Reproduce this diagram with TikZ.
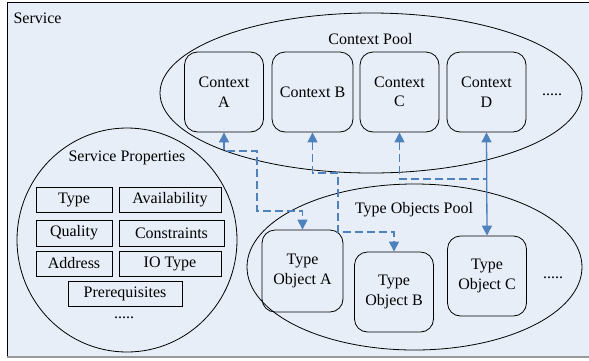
\documentclass[tikz,border=0pt]{standalone}
\usepackage{fontspec}
\setmainfont{Liberation Serif}
\newfontfamily\diagfont{Liberation Serif}
\usetikzlibrary{shapes.geometric,arrows.meta}
\definecolor{svcback}{RGB}{232,238,248}
\definecolor{linkblue}{RGB}{79,129,189}
\tikzset{
  every node/.style={font=\diagfont\fontsize{16}{19.5}\selectfont},
  pool/.style={draw, ellipse, inner sep=0pt, line width=0.8pt},
  objbox/.style={draw, rounded corners=13pt, minimum width=79pt, minimum height=80pt,
    align=center, line width=0.8pt},
  propbox/.style={draw, minimum height=25pt, inner sep=0pt, line width=0.9pt},
  dlink/.style={linkblue, line width=1.1pt, dash pattern=on 8pt off 4pt},
  slink/.style={linkblue, line width=1.3pt},
  >={Triangle[length=10pt,width=10pt]}
}
\begin{document}
\begin{tikzpicture}[x=1pt,y=-1pt]
  \useasboundingbox (0,0) rectangle (589,360);
  \fill[white] (0,0) rectangle (589,360);
  % service frame
  \filldraw[fill=svcback, draw=black, line width=0.8pt] (7,2.5) rectangle (600,357);
  \draw[gray!80, line width=1.5pt] (7,357) -- (589,357);
  \node[anchor=west] (svc) at (10,18) {Service};

  % pools
  \node[pool, minimum width=422pt, minimum height=160pt] (ctxpool) at (371,93) {};
  \node[pool, minimum width=335pt, minimum height=166pt] (topool) at (414.5,267) {};
  \node[pool, minimum width=220pt, minimum height=224pt] (proppool) at (127,240) {};
  \node (ctxlabel) at (370.5,39) {Context Pool};
  \node (tolabel) at (414,210) {Type Objects Pool};
  \node (proplabel) at (127,158) {Service Properties};

  % contexts
  \node[objbox] (ctxA) at (224,92) {Context\\A};
  \node[objbox, minimum width=81pt] (ctxB) at (312.5,92) {Context B};
  \node[objbox] (ctxC) at (399.5,92) {Context\\C};
  \node[objbox] (ctxD) at (486.5,92) {Context\\D};
  \node (ctxmore) at (552,95) {.....};

  % type objects
  \node[objbox, minimum width=81pt, minimum height=82pt] (toA) at (302.5,271) {Type\\Object A};
  \node[objbox] (toB) at (394,292) {Type\\Object B};
  \node[objbox] (toC) at (487,276) {Type\\Object C};
  \node (tomore) at (553,278) {.....};

  % service properties
  \node[propbox, minimum width=76pt] (ptype) at (74,199.5) {Type};
  \node[propbox, minimum width=102pt] (pavail) at (170,199.5) {Availability};
  \node[propbox, minimum width=76pt, minimum height=26pt] (pqual) at (74,233) {Quality};
  \node[propbox, minimum width=105pt, minimum height=26pt] (pcons) at (171.5,233) {Constraints};
  \node[propbox, minimum width=76pt] (paddr) at (74,263.5) {Address};
  \node[propbox, minimum width=102pt] (pio) at (170,263.5) {IO Type};
  \node[propbox, minimum width=114pt] (pprereq) at (125,293.5) {Prerequisites};
  \node (propmore) at (124,318) {.....};

  % links
  \coordinate (a1) at (257,151);
  \coordinate (a2) at (257,211);
  \coordinate (b1) at (338,173);
  \coordinate (b2) at (338,232);
  \coordinate (c1) at (486.5,179);
  \draw[dlink,<->] (ctxA.south) |- (a1) -- (a2) -| (toA.north);
  \draw[dlink,<->] (ctxB.south) |- (b1) -- (b2) -| (toB.north);
  \draw[dlink,<-] (ctxC.south) |- (c1);
  \draw[slink,<->] (ctxD.south) -- (toC.north);
\end{tikzpicture}
\end{document}
